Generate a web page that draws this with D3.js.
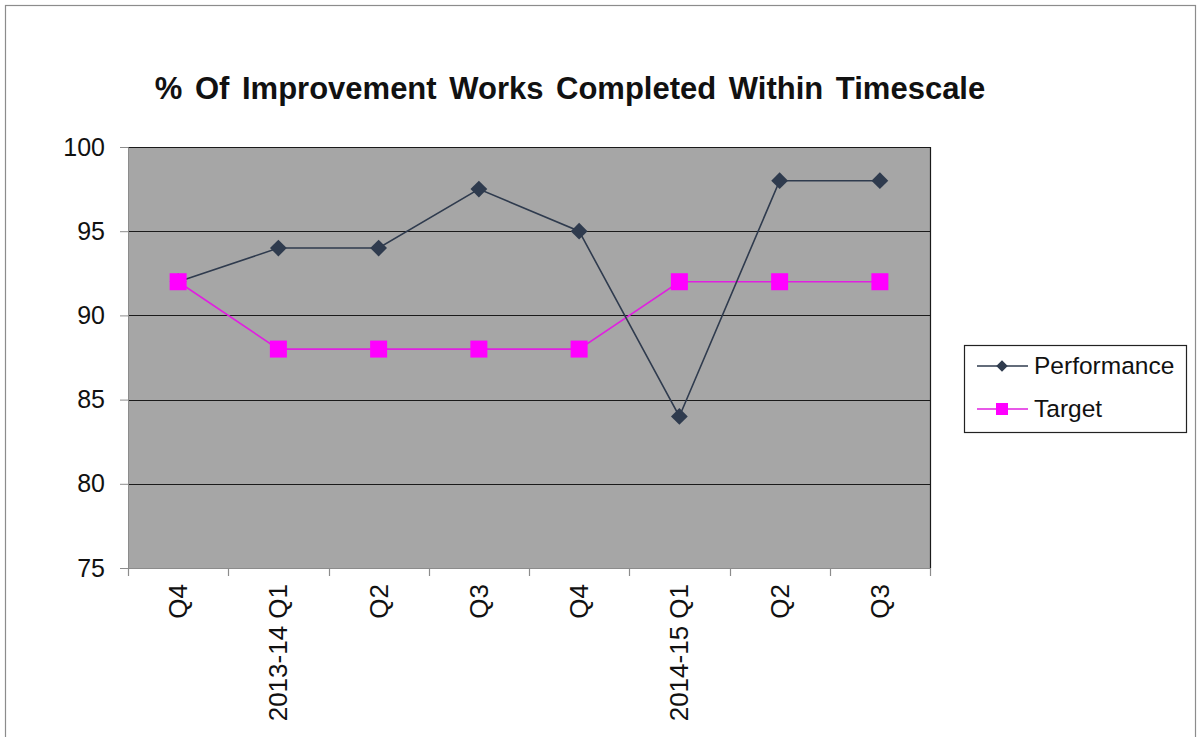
<!DOCTYPE html>
<html>
<head>
<meta charset="utf-8">
<script src="https://cdn.jsdelivr.net/npm/d3@7"></script>
<style>
  html, body { margin: 0; padding: 0; background: #fff; }
  svg { display: block; font-family: Arial, "Liberation Sans", sans-serif; }
</style>
</head>
<body>
<svg id="chart" width="1201" height="737"></svg>
<script>
// Quarter labels
const categories = ["Q4", "2013-14 Q1", "Q2", "Q3", "Q4", "2014-15 Q1", "Q2", "Q3"];
const performance = [92, 94, 94, 97.5, 95, 84, 98, 98];
const target = [92, 88, 88, 88, 88, 92, 92, 92];
const yTicks = [75, 80, 85, 90, 95, 100];
const titleText = "% Of Improvement Works Completed Within Timescale";

const svg = d3.select("#chart");
const plot = { left: 128, right: 930, top: 147, bottom: 568 };

// outer chart border
svg.append("rect")
  .attr("x", 5.5).attr("y", 5.5)
  .attr("width", 1190).attr("height", 740)
  .attr("fill", "#fff").attr("stroke", "#8c8c8c").attr("stroke-width", 1.2);

const x = d3.scaleBand().domain(d3.range(categories.length))
  .range([plot.left, plot.right]).paddingInner(0).paddingOuter(0);
const y = d3.scaleLinear().domain([75, 100]).range([plot.bottom, plot.top]);

// plot background
svg.append("rect")
  .attr("x", plot.left).attr("y", plot.top)
  .attr("width", plot.right - plot.left).attr("height", plot.bottom - plot.top)
  .attr("fill", "#a6a6a6");

// horizontal gridlines
svg.append("g").selectAll("line")
  .data(yTicks.filter(t => t > 75))
  .join("line")
  .attr("x1", plot.left).attr("x2", plot.right)
  .attr("y1", d => Math.round(y(d)) + 0.5).attr("y2", d => Math.round(y(d)) + 0.5)
  .attr("stroke", "#1a1a1a").attr("stroke-width", 1.2);

// right border of plot
svg.append("line")
  .attr("x1", plot.right + 0.5).attr("x2", plot.right + 0.5)
  .attr("y1", plot.top).attr("y2", plot.bottom)
  .attr("stroke", "#1a1a1a").attr("stroke-width", 1.2);

// y axis
const yAxis = svg.append("g")
  .attr("transform", `translate(${plot.left},0)`)
  .call(d3.axisLeft(y).tickValues(yTicks).tickSize(8).tickPadding(15).tickFormat(d3.format("d")));
yAxis.select(".domain").attr("stroke", "#8c8c8c");
yAxis.selectAll(".tick line").attr("stroke", "#8c8c8c");
yAxis.selectAll("text").attr("font-size", 25).attr("fill", "#111")
  .attr("font-family", "Arial, 'Liberation Sans', sans-serif");

// x axis (ticks at category boundaries)
const boundaries = d3.range(categories.length + 1).map(i =>
  i < categories.length ? x(i) : x(categories.length - 1) + x.bandwidth());
const xg = svg.append("g");
xg.append("line")
  .attr("x1", plot.left).attr("x2", plot.right)
  .attr("y1", plot.bottom + 0.5).attr("y2", plot.bottom + 0.5)
  .attr("stroke", "#8c8c8c").attr("stroke-width", 1.2);
xg.selectAll("line.tk").data(boundaries).join("line").attr("class", "tk")
  .attr("x1", d => Math.round(d) + 0.5).attr("x2", d => Math.round(d) + 0.5)
  .attr("y1", plot.bottom).attr("y2", plot.bottom + 8)
  .attr("stroke", "#8c8c8c").attr("stroke-width", 1.2);
xg.selectAll("text").data(categories).join("text")
  .attr("transform", (d, i) => `translate(${x(i) + x.bandwidth() / 2 + 9},${plot.bottom + 16}) rotate(-90)`)
  .attr("text-anchor", "end")
  .attr("font-size", 26).attr("fill", "#111")
  .text(d => d);

// title
svg.append("text")
  .attr("x", 570).attr("y", 99)
  .attr("text-anchor", "middle")
  .attr("font-size", 31).attr("font-weight", "bold").attr("fill", "#111")
  .attr("word-spacing", 4)
  .text(titleText);

const cx = i => x(i) + x.bandwidth() / 2;
const line = d3.line().x((d, i) => cx(i)).y(d => y(d));

const perfColor = "#2f3b4e";
const targColor = "#e020e0";
const targMarker = "#ff00ff";

// Target series
svg.append("path").datum(target)
  .attr("d", line).attr("fill", "none")
  .attr("stroke", targColor).attr("stroke-width", 1.6);

// Performance series
svg.append("path").datum(performance)
  .attr("d", line).attr("fill", "none")
  .attr("stroke", perfColor).attr("stroke-width", 1.6);

svg.append("g").selectAll("path")
  .data(performance).join("path")
  .attr("d", d3.symbol(d3.symbolDiamond2, 180))
  .attr("transform", (d, i) => `translate(${cx(i)},${y(d)})`)
  .attr("fill", perfColor);

svg.append("g").selectAll("rect")
  .data(target).join("rect")
  .attr("x", (d, i) => cx(i) - 8.5).attr("y", d => y(d) - 8.5)
  .attr("width", 17).attr("height", 17)
  .attr("fill", targMarker);

// legend
const lg = svg.append("g").attr("transform", "translate(964,345)");
lg.append("rect").attr("x", 0.5).attr("y", 0.5).attr("width", 222).attr("height", 87)
  .attr("fill", "#fff").attr("stroke", "#222").attr("stroke-width", 1.2);
const items = [
  { name: "Performance", color: perfColor, shape: "diamond", y: 21 },
  { name: "Target", color: targColor, shape: "square", y: 64 }
];
items.forEach(it => {
  lg.append("line").attr("x1", 13).attr("x2", 64).attr("y1", it.y).attr("y2", it.y)
    .attr("stroke", it.color).attr("stroke-width", 1.6);
  if (it.shape === "diamond") {
    lg.append("path").attr("d", d3.symbol(d3.symbolDiamond2, 85))
      .attr("transform", `translate(38,${it.y})`).attr("fill", it.color);
  } else {
    lg.append("rect").attr("x", 32).attr("y", it.y - 6).attr("width", 12).attr("height", 12)
      .attr("fill", targMarker);
  }
  lg.append("text").attr("x", 70).attr("y", it.y + 8)
    .attr("font-size", 24.5).attr("fill", "#111").text(it.name);
});
</script>
</body>
</html>
